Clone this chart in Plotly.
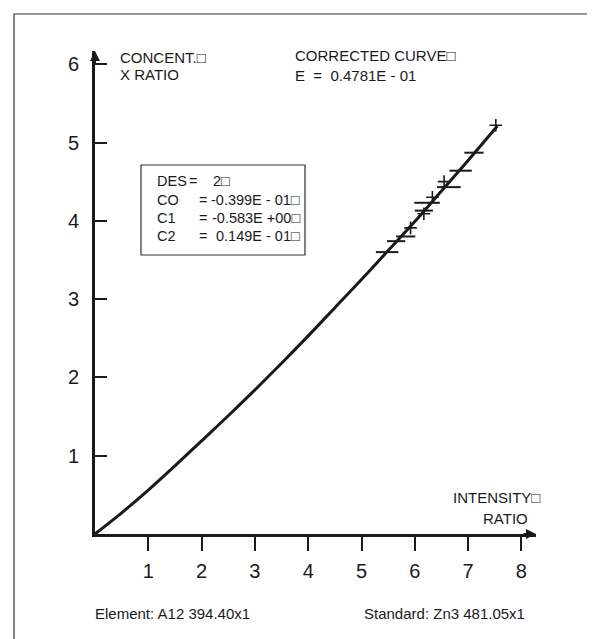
import plotly.graph_objects as go

# ---- data ----
curve_x = [0, 0.5, 1, 1.5, 2, 2.5, 3, 3.5, 4, 4.5, 5, 5.5, 6, 6.5, 7, 7.55]
curve_y = [0, 0.27, 0.56, 0.87, 1.19, 1.51, 1.84, 2.18, 2.53, 2.89, 3.25, 3.62, 3.99, 4.38, 4.77, 5.21]

cross_x = [7.52, 6.55, 6.33, 6.17, 5.92]
cross_y = [5.22, 4.50, 4.30, 4.09, 3.91]

bar_x = [7.11, 6.86, 6.64, 6.23, 6.17, 5.83, 5.65, 5.48]
bar_y = [4.87, 4.64, 4.43, 4.23, 4.13, 3.80, 3.74, 3.60]
bar_err = [0.18, 0.21, 0.22, 0.24, 0.17, 0.18, 0.17, 0.21]

x_ticks = [1, 2, 3, 4, 5, 6, 7, 8]
y_ticks = [1, 2, 3, 4, 5, 6]

box_labels = ["DES", "CO", "C1", "C2"]
box_values = ["2\u25a1", "-0.399E - 01\u25a1", "-0.583E +00\u25a1", "0.149E - 01\u25a1"]

# ---- layout geometry ----
W, H = 595, 639
L, R, T, B = 87, 67, 43, 113
PW, PH = W - L - R, H - T - B
XMAX = PW / 53.3
YMAX = PH / 78.3

def px(xp):
    return (xp - L) / PW

def py(yp):
    return (H - B - yp) / PH

FONT = "Liberation Sans, Arial, Helvetica, sans-serif"
INK = "#1a1a1a"

fig = go.Figure()
fig.add_trace(go.Scatter(x=curve_x, y=curve_y, mode="lines",
                         line=dict(color=INK, width=3, shape="spline"),
                         hoverinfo="skip", showlegend=False))
fig.add_trace(go.Scatter(x=bar_x, y=bar_y, mode="markers",
                         marker=dict(size=1, color=INK, opacity=0),
                         error_x=dict(type="data", array=bar_err, visible=True,
                                      color=INK, thickness=2, width=0),
                         showlegend=False))
fig.add_trace(go.Scatter(x=cross_x, y=cross_y, mode="markers",
                         marker=dict(symbol="cross-thin", size=9,
                                     line=dict(color=INK, width=1.6)),
                         showlegend=False))

annots = []
def txt(text, xp, yp, size=15, xanchor="left"):
    annots.append(dict(text=text, x=px(xp), y=py(yp), xref="paper", yref="paper",
                       xanchor=xanchor, yanchor="middle", showarrow=False,
                       font=dict(family=FONT, size=size, color=INK)))

txt("CONCENT.\u25a1", 110, 50)
txt("X RATIO", 110, 66)
txt("CORRECTED CURVE\u25a1", 285, 48)
txt("E  =  0.4781E - 01", 285, 67)
txt("INTENSITY\u25a1", 534, 489, xanchor="right")
txt("RATIO", 522, 510, xanchor="right")
txt("Element: A12 394.40x1", 85, 605)
txt("Standard: Zn3 481.05x1", 519, 605, xanchor="right")

rows_y = [173, 192, 210, 228]
for i, (lab, val, yy) in enumerate(zip(box_labels, box_values, rows_y)):
    txt(lab, 147, yy, size=14.5)
    if i == 0:
        txt("=", 179, yy, size=14.5)
        txt(val, 203, yy, size=14.5)
    else:
        txt("=", 189, yy, size=14.5)
        txt(val, 294, yy, size=14.5, xanchor="right")

# arrowheads at axis ends
annots.append(dict(x=XMAX, y=0, ax=-14, ay=0, xref="x", yref="y", showarrow=True,
                   arrowhead=2, arrowsize=1, arrowwidth=2, arrowcolor=INK, text=""))
annots.append(dict(x=0, y=YMAX, ax=0, ay=14, xref="x", yref="y", showarrow=True,
                   arrowhead=2, arrowsize=1, arrowwidth=2, arrowcolor=INK, text=""))

shapes = [
    dict(type="rect", xref="paper", yref="paper", x0=px(6), x1=px(589), y0=py(633), y1=py(6),
         line=dict(color="#333", width=1.2)),
    dict(type="rect", xref="paper", yref="paper", x0=px(133), x1=px(297), y0=py(247), y1=py(157),
         line=dict(color="#333", width=1.2)),
]

fig.update_layout(
    width=W, height=H, margin=dict(l=L, r=R, t=T, b=B),
    paper_bgcolor="white", plot_bgcolor="white",
    annotations=annots, shapes=shapes, showlegend=False,
    xaxis=dict(range=[0, XMAX], tickvals=x_ticks, ticktext=[str(v) for v in x_ticks],
               showgrid=False, zeroline=False, showline=True, linecolor=INK, linewidth=3,
               ticks="outside", ticklen=14, tickwidth=2, tickcolor=INK,
               tickfont=dict(family=FONT, size=20, color=INK), ticklabelstandoff=3),
    yaxis=dict(range=[0, YMAX], tickvals=y_ticks, ticktext=[str(v) for v in y_ticks],
               showgrid=False, zeroline=False, showline=True, linecolor=INK, linewidth=3,
               ticks="inside", ticklen=12, tickwidth=2, tickcolor=INK,
               tickfont=dict(family=FONT, size=20, color=INK), ticklabelstandoff=9),
)

fig.write_html("out.html")
